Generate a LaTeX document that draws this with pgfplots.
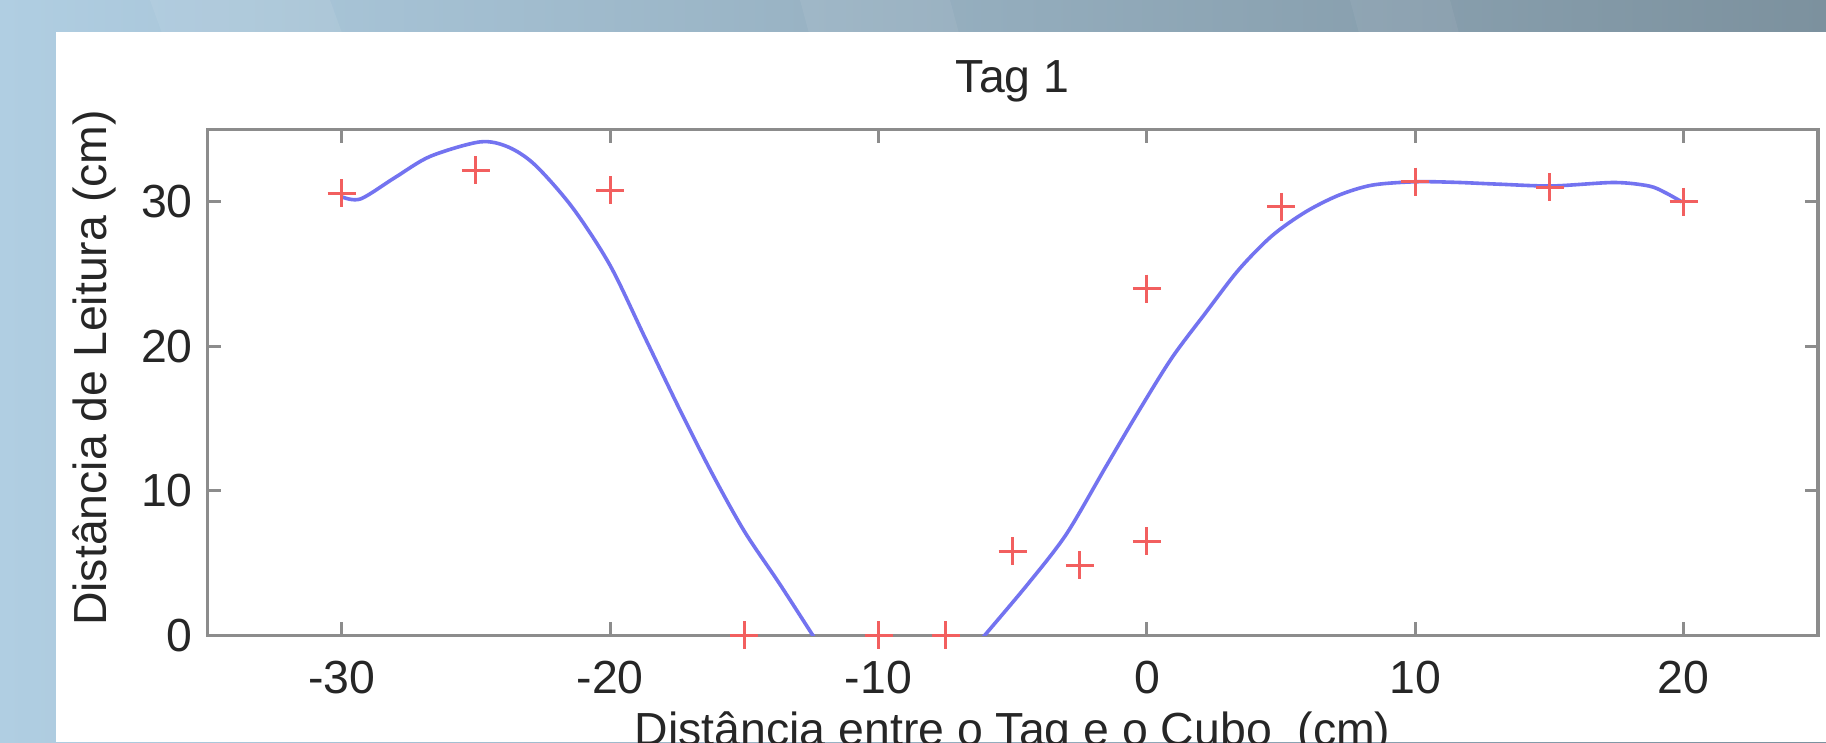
\documentclass[border=0pt]{standalone}
\usepackage{pgfplots}
\pgfplotsset{compat=1.18}
\usepackage{fontspec}
\setmainfont{Liberation Sans}
\definecolor{bgL}{RGB}{176,206,226}
\definecolor{bgM}{RGB}{160,184,199}
\definecolor{bgR}{RGB}{124,145,158}
\definecolor{axgray}{RGB}{140,140,140}
\definecolor{txt}{RGB}{38,38,38}
\definecolor{ptred}{RGB}{242,95,95}
\definecolor{curveblue}{RGB}{115,115,240}
\newcommand{\chartfont}{\fontsize{11.6}{13.9}\selectfont}
\begin{document}
\begin{tikzpicture}
\begin{scope}[x=0.25pt,y=0.25pt]
\path[use as bounding box] (0,0) rectangle (1826,742);
\end{scope}
\clip (0pt,0pt) rectangle (456.5pt,185.5pt);
\begin{scope}[x=0.25pt,y=0.25pt]
\shade[left color=bgL, middle color=bgM, right color=bgR] (0,0) rectangle (1826,742);
\fill[white,opacity=0.07] (150,742) -- (330,742) -- (600,0) -- (420,0) -- cycle;
\fill[white,opacity=0.06] (800,742) -- (950,742) -- (1150,0) -- (1000,0) -- cycle;
\fill[white,opacity=0.05] (1350,742) -- (1450,742) -- (1650,0) -- (1550,0) -- cycle;
\fill[white] (56,0) rectangle (1826,710);
\end{scope}
\begin{axis}[
  at={(51.875pt,26.7pt)}, anchor=south west,
  scale only axis, width=402.6pt, height=126.4pt,
  xmin=-35, xmax=25, ymin=0, ymax=35,
  xtick={-30,-20,-10,0,10,20},
  xticklabels={-30,-20,-10,0,10,20},
  ytick={0,10,20,30},
  yticklabels={0,10,20,30},
  tick pos=both, tick align=inside,
  major tick length=3.25pt,
  axis line style={draw=axgray, line width=0.85pt},
  major tick style={draw=axgray, line width=0.75pt},
  xticklabel style={font=\chartfont, text=txt, anchor=base, yshift=-14.45pt},
  yticklabel style={font=\chartfont, text=txt, anchor=east, inner sep=0pt, xshift=-3.5pt},
  title={Tag 1},
  title style={font=\chartfont, text=txt, at={(axis description cs:0.5,1)}, anchor=base, yshift=3.35pt},
  xlabel={Distância entre o Tag e o Cubo\ \ (cm)},
  xlabel style={font=\chartfont, text=txt, at={(axis description cs:0.5,0)}, anchor=base, yshift=-27.6pt},
  ylabel={Distância de Leitura (cm)},
  ylabel style={font=\chartfont, text=txt, at={(axis description cs:-0.0702,0.5285)}, anchor=center},
  clip=true,
]
\addplot[curveblue, line width=0.9pt, smooth, no markers] coordinates {
(-30,30.35) (-29.3,30.2) (-28,31.7) (-26.7,33.15) (-24.85,34.15) (-23.8,33.8) (-22.8,32.56) (-21.4,29.6) (-20.0,25.6) (-18.7,20.6) (-17.4,15.6) (-16.2,11.2) (-15.0,7.2) (-13.7,3.6) (-12.45,0) (-12.0,-1.3)
};
\addplot[curveblue, line width=0.9pt, smooth, no markers] coordinates {
(-6.5,-1.0) (-6.04,0) (-4.41,3.6) (-3.0,7.0) (-1.55,11.6) (-0.31,15.5) (0.93,19.2) (2.18,22.3) (3.42,25.3) (4.66,27.65) (5.91,29.3) (7.15,30.46) (8.4,31.16) (10,31.39) (11.5,31.35) (13.15,31.22) (15.1,31.1) (17.4,31.34) (18.7,31.1) (19.3,30.65) (19.93,30.0)
};
\addplot[only marks, mark=+, mark size=3.5pt, ptred, mark options={line width=0.75pt}] coordinates {
(-30,30.6) (-25,32.2) (-20,30.8) (-15,0) (-10,0) (-7.5,0) (-5,5.8) (-2.5,4.85) (0,6.5) (0,24.0) (5,29.65) (10,31.4) (15,31.0) (20,30.0)
};
\end{axis}
\end{tikzpicture}
\end{document}
